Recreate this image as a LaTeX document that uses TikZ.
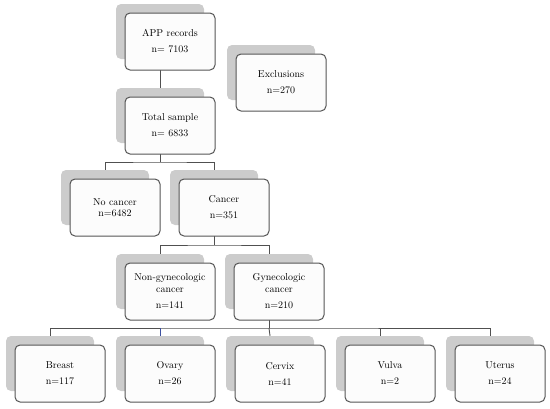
\documentclass[tikz,border=0pt]{standalone}
\definecolor{shadgray}{RGB}{204,204,204}
\definecolor{boxfill}{RGB}{252,252,252}
\definecolor{bordergray}{RGB}{85,85,85}
\definecolor{linegray}{RGB}{80,80,80}
\definecolor{tickblue}{RGB}{60,80,160}
\tikzset{
  boxw/.style={draw=bordergray, fill=boxfill, rounded corners=5pt, minimum width=90pt, minimum height=57pt, line width=1pt, align=center, font=\fontsize{10}{12}\selectfont, inner sep=0pt},
  shad/.style={fill=shadgray, rounded corners=5pt, minimum width=88pt, minimum height=55pt, inner sep=0pt},
  conn/.style={draw=linegray, line width=0.9pt}
}
\newcommand{\myshadow}[3]{\node[shad] (#1s) at ({#2+35},{#3+18.5}) {};}
\newcommand{\mywhite}[4]{\node[boxw] (#1) at ({#2+45},{#3+28.5}) {#4};}
\begin{document}
\begin{tikzpicture}[x=1pt,y=-1pt]
\useasboundingbox (0,0) rectangle (550,408);
% shadows
\myshadow{app}{125}{13}
\myshadow{exc}{236}{54}
\myshadow{tot}{125}{97}
\myshadow{nc}{70}{179}
\myshadow{ca}{179}{179}
\myshadow{ng}{125}{263}
\myshadow{gy}{234}{263}
\myshadow{br}{15}{345}
\myshadow{ov}{125}{345}
\myshadow{ce}{235}{345}
\myshadow{vu}{345}{345}
\myshadow{ut}{455}{345}
% connectors
\coordinate (j1) at (160,162);
\coordinate (j2) at (214,245);
\coordinate (j3) at (269,328);
\draw[conn] (apps.south) -- (tots.north);
\draw[conn] (tots.south) -- (j1);
\draw[conn] (ncs.north) |- (j1) -| (cas.north);
\draw[conn] (cas.south) -- (j2);
\draw[conn] (ngs.north) |- (j2) -| (gys.north);
\draw[conn] (gys.south) -- (j3);
\draw[conn] (brs.north) |- (j3) -| (uts.north);
\draw[conn] (j3) -- (ces.north);
\draw[conn] (vus.north) -- (vus.north |- j3);
\draw[draw=tickblue, line width=0.9pt] (ovs.north) -- (ovs.north |- j3);
% white boxes
\mywhite{app}{125}{13}{APP records\\[4pt]n= 7103}
\mywhite{exc}{236}{54}{Exclusions\\[4pt]n=270}
\mywhite{tot}{125}{97}{Total sample\\[4pt]n= 6833}
\mywhite{nc}{70}{179}{No cancer\\[-1pt]n=6482}
\mywhite{ca}{179}{179}{Cancer\\[4pt]n=351}
\mywhite{ng}{125}{263}{Non-gynecologic\\cancer\\[4pt]n=141}
\mywhite{gy}{234}{263}{Gynecologic\\cancer\\[4pt]n=210}
\mywhite{br}{15}{345}{Breast\\[4pt]n=117}
\mywhite{ov}{125}{345}{Ovary\\[4pt]n=26}
\mywhite{ce}{235}{345}{Cervix\\[4pt]n=41}
\mywhite{vu}{345}{345}{Vulva\\[4pt]n=2}
\mywhite{ut}{455}{345}{Uterus\\[4pt]n=24}
\end{tikzpicture}
\end{document}
